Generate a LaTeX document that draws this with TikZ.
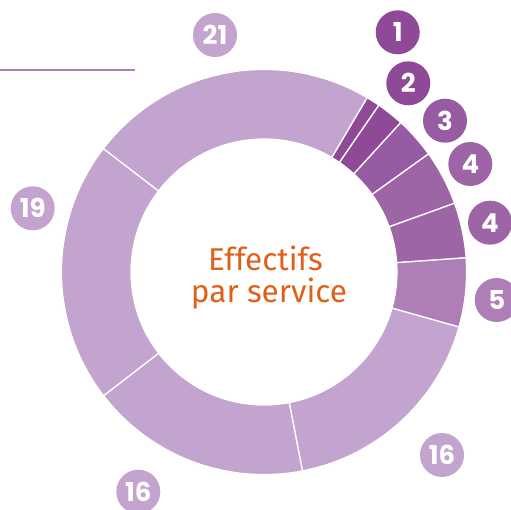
\documentclass[tikz,border=0pt]{standalone}
\usepackage{fontspec}
\setmainfont{Fira Sans}
\newfontfamily\numfont{Poppins}[BoldFont={* Bold}]
\definecolor{darkpurple}{HTML}{8E4A96}
\definecolor{midpurple}{HTML}{975BA3}
\definecolor{softpurple}{HTML}{9E65A6}
\definecolor{palepurple}{HTML}{AD7FB6}
\definecolor{lightpurple}{HTML}{C3A4CE}
\definecolor{rulepurple}{HTML}{B07DB8}
\definecolor{titleorange}{HTML}{E0601A}
% ring slice: start angle, end angle, colour
\newcommand{\ringslice}[3]{%
  \fill[#3, draw=white, line width=1.3pt]
    ([shift={(#1:202.6)}]ctr) arc[start angle=#1, end angle=#2, radius=202.6]
    -- ([shift={(#2:133)}]ctr) arc[start angle=#2, end angle=#1, radius=133] -- cycle;}
\begin{document}
\begin{tikzpicture}[
  x=1pt, y=1pt,
  num/.style={circle, minimum size=44pt, inner sep=0pt, text=white,
    font=\numfont\bfseries\fontsize{26}{26}\selectfont},
  title/.style={text=titleorange, anchor=base, inner sep=0pt,
    font=\fontsize{31.5}{31.5}\selectfont}
]
\useasboundingbox (0,-510) rectangle (511,0);
\coordinate (ctr) at (264,-272);

\ringslice{59.40}{55.44}{darkpurple}
\ringslice{55.44}{47.53}{darkpurple}
\ringslice{47.53}{35.66}{midpurple}
\ringslice{35.66}{19.84}{softpurple}
\ringslice{19.84}{4.01}{softpurple}
\ringslice{4.01}{-15.77}{palepurple}
\ringslice{-15.77}{-79.07}{lightpurple}
\ringslice{-79.07}{-142.37}{lightpurple}
\ringslice{-142.37}{-217.54}{lightpurple}
\ringslice{-217.54}{-300.60}{lightpurple}

\node[title] (t1) at (265.5,-271) {Effectifs};
\node[title] (t2) at (269,-303) {par service};

\node[num, fill=darkpurple] (n1) at (397.7,-32.3) {1};
\node[num, fill=darkpurple] (n2) at (408.3,-83.3) {2};
\node[num, fill=midpurple] (n3) at (445,-120.7) {3};
\node[num, fill=softpurple] (n4a) at (470.3,-164) {4};
\node[num, fill=softpurple] (n4b) at (490,-222.7) {4};
\node[num, fill=palepurple] (n5) at (496.7,-300) {5};
\node[num, fill=lightpurple] (n16a) at (442,-455) {16};
\node[num, fill=lightpurple] (n16b) at (138.3,-491.7) {16};
\node[num, fill=lightpurple] (n19) at (32.7,-208.3) {19};
\node[num, fill=lightpurple] (n21) at (215,-35) {21};

\coordinate (r1) at (0,-70);
\coordinate (r2) at (135,-70);
\draw[rulepurple, line width=1.3pt] (r1) -- (r2);
\end{tikzpicture}
\end{document}
